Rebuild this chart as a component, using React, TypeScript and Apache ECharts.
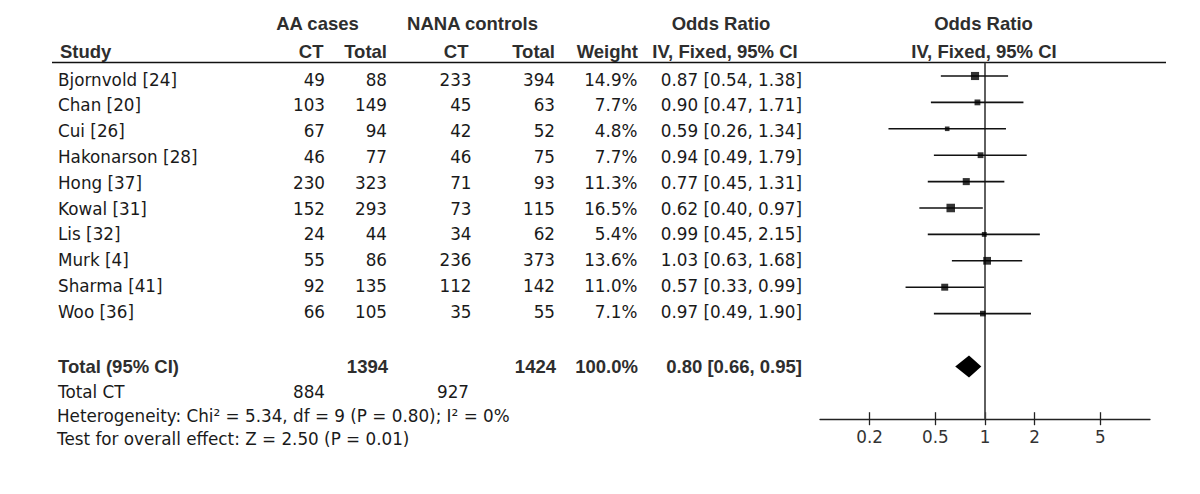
import React, { useEffect, useRef } from "react";
import * as echarts from "echarts";

// ---- data ----
const studies = [
  "Bjornvold [24]", "Chan [20]", "Cui [26]", "Hakonarson [28]", "Hong [37]",
  "Kowal [31]", "Lis [32]", "Murk [4]", "Sharma [41]", "Woo [36]",
];
const aaCT = [49, 103, 67, 46, 230, 152, 24, 55, 92, 66];
const aaTotal = [88, 149, 94, 77, 323, 293, 44, 86, 135, 105];
const nanaCT = [233, 45, 42, 46, 71, 73, 34, 236, 112, 35];
const nanaTotal = [394, 63, 52, 75, 93, 115, 62, 373, 142, 55];
const weights = [14.9, 7.7, 4.8, 7.7, 11.3, 16.5, 5.4, 13.6, 11.0, 7.1];
const oddsRatio = [0.87, 0.9, 0.59, 0.94, 0.77, 0.62, 0.99, 1.03, 0.57, 0.97];
const ciLow = [0.54, 0.47, 0.26, 0.49, 0.45, 0.4, 0.45, 0.63, 0.33, 0.49];
const ciHigh = [1.38, 1.71, 1.34, 1.79, 1.31, 0.97, 2.15, 1.68, 0.99, 1.9];
const totalAA = 1394;
const totalNANA = 1424;
const totalCTAA = 884;
const totalCTNANA = 927;
const totalWeight = 100.0;
const totalOR = [0.8, 0.66, 0.95];
const xTicks = [0.2, 0.5, 1, 2, 5];
const heterogeneityText = "Heterogeneity: Chi\u00b2 = 5.34, df = 9 (P = 0.80); I\u00b2 = 0%";
const overallText = "Test for overall effect: Z = 2.50 (P = 0.01)";

// ---- layout ----
const BODY_FONT = '16.8px "DejaVu Sans"';
const HEAD_FONT = 'bold 18.5px "Liberation Sans"';
const BODY_COLOR = "#1a1a1a";
const HEAD_COLOR = "#2e2e2e";
const TEXT_Y0 = 79.5;
const TEXT_DY = 25.8;
const TOTAL_ROW = 11;

const fmtCI = (o: number, l: number, h: number) =>
  `${o.toFixed(2)} [${l.toFixed(2)}, ${h.toFixed(2)}]`;

function txt(text: string, x: number, y: number, align: string, font: string, fill: string) {
  return {
    type: "text",
    x,
    y,
    silent: true,
    style: { text, x: 0, y: 0, font, fill, textAlign: align, textVerticalAlign: "middle" },
  };
}

export default function App() {
  const ref = useRef<HTMLDivElement>(null);
  useEffect(() => {
    if (!ref.current) return;
    const chart = echarts.init(ref.current, null, { renderer: "svg" });

    const g: any[] = [];
    // headers
    g.push(txt("AA cases", 317.5, 23.5, "center", HEAD_FONT, HEAD_COLOR));
    g.push(txt("NANA controls", 472.5, 23.5, "center", HEAD_FONT, HEAD_COLOR));
    g.push(txt("Odds Ratio", 721, 23.5, "center", HEAD_FONT, HEAD_COLOR));
    g.push(txt("Odds Ratio", 983.5, 23.5, "center", HEAD_FONT, HEAD_COLOR));
    g.push(txt("Study", 60, 51.5, "left", HEAD_FONT, HEAD_COLOR));
    g.push(txt("CT", 323.5, 51.5, "right", HEAD_FONT, HEAD_COLOR));
    g.push(txt("Total", 387, 51.5, "right", HEAD_FONT, HEAD_COLOR));
    g.push(txt("CT", 468.5, 51.5, "right", HEAD_FONT, HEAD_COLOR));
    g.push(txt("Total", 555, 51.5, "right", HEAD_FONT, HEAD_COLOR));
    g.push(txt("Weight", 638, 51.5, "right", HEAD_FONT, HEAD_COLOR));
    g.push(txt("IV, Fixed, 95% CI", 725, 51.5, "center", HEAD_FONT, HEAD_COLOR));
    g.push(txt("IV, Fixed, 95% CI", 984, 51.5, "center", HEAD_FONT, HEAD_COLOR));
    g.push({
      type: "line",
      silent: true,
      shape: { x1: 52, y1: 62.5, x2: 1166, y2: 62.5 },
      style: { stroke: "#111", lineWidth: 1.6 },
    });

    // study rows
    studies.forEach((s, i) => {
      const y = TEXT_Y0 + TEXT_DY * i;
      g.push(txt(s, 58, y, "left", BODY_FONT, BODY_COLOR));
      g.push(txt(String(aaCT[i]), 325, y, "right", BODY_FONT, BODY_COLOR));
      g.push(txt(String(aaTotal[i]), 387, y, "right", BODY_FONT, BODY_COLOR));
      g.push(txt(String(nanaCT[i]), 471.5, y, "right", BODY_FONT, BODY_COLOR));
      g.push(txt(String(nanaTotal[i]), 555, y, "right", BODY_FONT, BODY_COLOR));
      g.push(txt(weights[i].toFixed(1) + "%", 637.5, y, "right", BODY_FONT, BODY_COLOR));
      g.push(txt(fmtCI(oddsRatio[i], ciLow[i], ciHigh[i]), 802, y, "right", BODY_FONT, BODY_COLOR));
    });

    // totals
    const ty = 366.5;
    g.push(txt("Total (95% CI)", 58, ty, "left", HEAD_FONT, HEAD_COLOR));
    g.push(txt(String(totalAA), 388, ty, "right", HEAD_FONT, HEAD_COLOR));
    g.push(txt(String(totalNANA), 556, ty, "right", HEAD_FONT, HEAD_COLOR));
    g.push(txt(totalWeight.toFixed(1) + "%", 638, ty, "right", HEAD_FONT, HEAD_COLOR));
    g.push(txt(fmtCI(totalOR[0], totalOR[1], totalOR[2]), 802, ty, "right", HEAD_FONT, HEAD_COLOR));
    g.push(txt("Total CT", 58, 392, "left", BODY_FONT, BODY_COLOR));
    g.push(txt(String(totalCTAA), 325, 392, "right", BODY_FONT, BODY_COLOR));
    g.push(txt(String(totalCTNANA), 469, 392, "right", BODY_FONT, BODY_COLOR));
    g.push(txt(heterogeneityText, 57, 415.5, "left", BODY_FONT, BODY_COLOR));
    g.push(txt(overallText, 57, 438.5, "left", BODY_FONT, BODY_COLOR));

    const ciData = studies.map((_, i) => [ciLow[i], ciHigh[i], i]);
    const sqData = studies.map((_, i) => [oddsRatio[i], i, weights[i]]);

    chart.setOption({
      animation: false,
      backgroundColor: "#fff",
      grid: { left: 820, right: 50, top: 62.8, bottom: 74.8, containLabel: false },
      xAxis: [
        {
          type: "log",
          logBase: 10,
          min: 0.1,
          max: 10,
          position: "bottom",
          axisLine: { show: true, onZero: false, lineStyle: { color: "#222", width: 1.3 } },
          axisTick: {
            show: true,
            customValues: xTicks,
            length: 6,
            lineStyle: { color: "#222", width: 1.3 },
          },
          axisLabel: {
            show: true,
            customValues: xTicks,
            formatter: (v: number) => String(v),
            margin: 9,
            color: "#333",
            fontFamily: "DejaVu Sans",
            fontSize: 16.8,
          },
          splitLine: { show: false },
          minorTick: { show: false },
        },
        {
          type: "log",
          logBase: 10,
          min: 0.1,
          max: 10,
          position: "bottom",
          axisLine: { show: false, onZero: false },
          axisTick: {
            show: true,
            inside: true,
            customValues: xTicks,
            length: 7,
            lineStyle: { color: "#222", width: 1.3 },
          },
          axisLabel: { show: false },
          splitLine: { show: false },
        },
      ],
      yAxis: {
        type: "value",
        inverse: true,
        min: -0.5,
        max: 13,
        show: false,
        splitLine: { show: false },
      },
      graphic: g,
      series: [
        {
          type: "line",
          data: [[1, -0.5], [1, 13]],
          symbol: "none",
          silent: true,
          lineStyle: { color: "#444", width: 1.7 },
          z: 1,
        },
        {
          type: "custom",
          data: ciData,
          encode: { x: [0, 1], y: 2 },
          silent: true,
          z: 2,
          renderItem: (params: any, api: any) => {
            const p1 = api.coord([api.value(0), api.value(2)]);
            const p2 = api.coord([api.value(1), api.value(2)]);
            return {
              type: "line",
              shape: { x1: p1[0], y1: p1[1], x2: p2[0], y2: p2[1] },
              style: { stroke: "#111", lineWidth: 1.6 },
            };
          },
        },
        {
          type: "scatter",
          data: sqData,
          symbol: "rect",
          symbolSize: (v: number[]) => 2.1 * Math.sqrt(v[2]),
          itemStyle: { color: "#000" },
          silent: true,
          z: 3,
        },
        {
          type: "custom",
          data: [[totalOR[0], totalOR[1], totalOR[2], TOTAL_ROW]],
          encode: { x: [0, 1, 2], y: 3 },
          silent: true,
          z: 3,
          renderItem: (params: any, api: any) => {
            const c = api.coord([api.value(0), api.value(3)]);
            const l = api.coord([api.value(1), api.value(3)]);
            const h = api.coord([api.value(2), api.value(3)]);
            return {
              type: "polygon",
              shape: {
                points: [
                  [l[0], c[1]],
                  [c[0], c[1] - 11],
                  [h[0], c[1]],
                  [c[0], c[1] + 11],
                ],
              },
              style: { fill: "#000" },
            };
          },
        },
      ],
    });
    return () => chart.dispose();
  }, []);
  return (
    <div
      ref={ref}
      style={{ position: "fixed", left: 0, top: 0, width: 1200, height: 494, background: "#fff" }}
    />
  );
}
